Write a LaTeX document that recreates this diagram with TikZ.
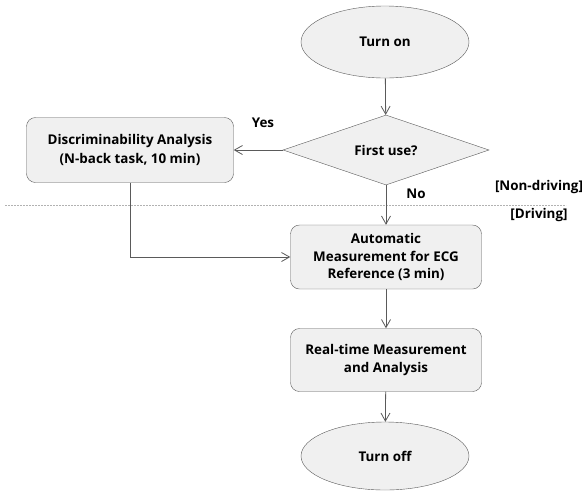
\documentclass[tikz,border=0pt]{standalone}
\usepackage{fontspec}
\setmainfont{Open Sans}
\usepackage{xcolor}
\usepackage{tikz}
\usetikzlibrary{arrows.meta}
\usetikzlibrary{shapes.geometric}

\definecolor{boxfill}{HTML}{F0F0F0}
\definecolor{boxline}{HTML}{5A5A5A}

\begin{document}
\begin{tikzpicture}[x=1pt, y=-1pt,
        box/.style={draw=boxline, fill=boxfill, rounded corners=9pt, minimum width=191pt, minimum height=64pt, align=center, font=\fontsize{13.4}{17.5}\selectfont\bfseries, inner sep=1pt},
        term/.style={ellipse, draw=boxline, fill=boxfill, minimum width=168pt, minimum height=72pt, font=\fontsize{13.4}{17.5}\selectfont\bfseries},
        decision/.style={diamond, draw=boxline, fill=boxfill, aspect=2.95, minimum width=206pt, minimum height=70pt, inner sep=0pt, font=\fontsize{13.4}{17.5}\selectfont\bfseries},
        lbl/.style={font=\fontsize{13.4}{17.5}\selectfont\bfseries, inner sep=0pt},
        arrow/.style={-{Straight Barb[length=8pt,width=9pt]}, boxline, line width=0.8pt}
      ]
        \useasboundingbox (0,0) rectangle (585,491);
        \node[term] (on) at (385,42) {Turn on};
        \node[decision] (first) at (386,150) {First use?};
        \node[box, minimum width=207pt, minimum height=65pt, font=\fontsize{13.4}{19}\selectfont\bfseries] (disc) at (130,150) {Discriminability Analysis\\(N-back task, 10 min)};
        \node[box] (auto) at (386,257) {Automatic\\Measurement for ECG\\Reference (3 min)};
        \node[box, minimum height=63pt] (real) at (386,360) {Real-time Measurement\\and Analysis};
        \node[term, minimum height=68pt] (off) at (385,456) {Turn off};
        \node[lbl] (yes) at (263,123) {Yes};
        \node[lbl] (no) at (416,194) {No};
        \node[lbl] (nondrv) at (539,187) {[Non-driving]};
        \node[lbl] (drv) at (539,215) {[Driving]};
        \coordinate (sepl) at (5,205);
        \coordinate (sepr) at (566,205);
        \draw[gray!60, dash pattern=on 2pt off 1pt, line width=0.6pt] (sepl) -- (sepr);
        \draw[arrow] (on) -- (first);
        \draw[arrow] (first) -- (disc);
        \draw[arrow] (first) -- (auto);
        \draw[arrow] (disc) |- (auto);
        \draw[arrow] (auto) -- (real);
        \draw[arrow] (real) -- (off);
      \end{tikzpicture}
\end{document}
